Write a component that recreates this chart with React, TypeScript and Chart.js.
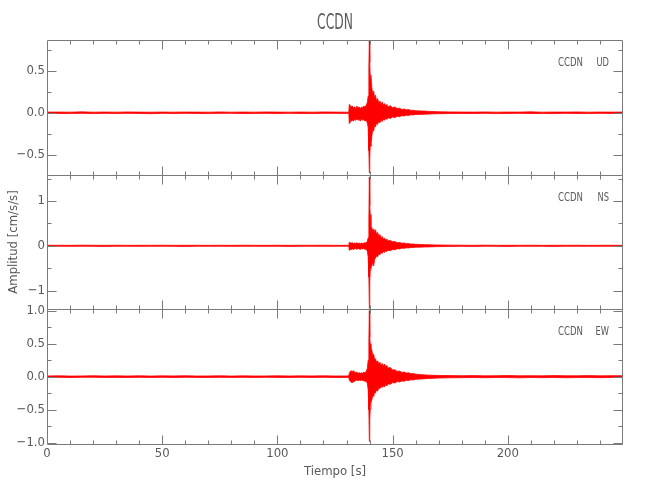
import React, { useEffect, useRef } from 'react';
import { Chart, registerables } from 'chart.js';

Chart.register(...registerables);

const TITLE = 'CCDN';
const STATION = 'CCDN';
const X_LABEL = 'Tiempo [s]';
const Y_LABEL = 'Amplitud [cm/s/s]';
const X_RANGE = [0, 250];
const X_TICKS = [0, 50, 100, 150, 200];

const TIME = [
  0, 5, 10, 15, 20, 25, 30, 35, 40, 45, 50, 55, 60, 65, 70, 75, 80, 85, 90, 95, 100, 105, 110, 115, 120, 125, 130, 131,
  131.2, 131.6, 132, 132.5, 133, 133.5, 134, 134.5, 135, 135.5, 136, 136.5, 137, 137.5, 138, 138.5, 139,
  139.4, 139.7, 139.9, 140.1, 140.3, 140.6,
  141, 141.4, 141.8, 142.2, 142.6, 143,
  143.5, 144, 144.5, 145, 145.5, 146, 146.5, 147, 147.5, 148,
  149, 150, 151, 152, 153, 154, 155, 156, 157, 158, 159, 160,
  162, 164, 166, 168, 170,
  175,
  180, 185, 190, 195, 200, 205, 210, 215, 220, 225, 230, 235, 240, 245, 250,
];

// UD component (upper / lower envelope)
const UD_HI = [
  0.008, 0.009, 0.007, 0.011, 0.007, 0.009, 0.007, 0.010, 0.008, 0.007, 0.009, 0.007, 0.009, 0.008, 0.007, 0.010, 0.007, 0.009, 0.007, 0.010, 0.008, 0.007, 0.009, 0.007, 0.010, 0.008, 0.007, 0.008,
  0.10, 0.09, 0.07, 0.08, 0.06, 0.07, 0.05, 0.08, 0.06, 0.07, 0.05, 0.07, 0.06, 0.08, 0.07, 0.09, 0.12,
  0.20, 0.55, 0.87, 0.60, 0.42, 0.45,
  0.30, 0.22, 0.26, 0.17, 0.21, 0.14,
  0.17, 0.12, 0.14, 0.10, 0.13, 0.09, 0.11, 0.08, 0.10, 0.07,
  0.085, 0.06, 0.07, 0.05, 0.055, 0.04, 0.045, 0.035, 0.038, 0.028, 0.03, 0.024,
  0.022, 0.02, 0.015, 0.014, 0.012,
  0.010,
  0.009, 0.008, 0.010, 0.007, 0.009, 0.008, 0.011, 0.007, 0.009, 0.008, 0.010, 0.007, 0.009, 0.008, 0.009,
];
const UD_LO = [
  -0.007, -0.009, -0.008, -0.007, -0.010, -0.007, -0.009, -0.007, -0.008, -0.011, -0.007, -0.009, -0.007, -0.008, -0.010, -0.007, -0.007, -0.009, -0.008, -0.007, -0.010, -0.007, -0.008, -0.009, -0.007, -0.007, -0.008, -0.007,
  -0.13, -0.11, -0.10, -0.09, -0.10, -0.08, -0.09, -0.07, -0.09, -0.08, -0.10, -0.07, -0.09, -0.08, -0.10, -0.09, -0.12,
  -0.18, -0.45, -0.72, -0.55, -0.38, -0.40,
  -0.28, -0.19, -0.22, -0.14, -0.17, -0.12,
  -0.14, -0.10, -0.12, -0.085, -0.105, -0.075, -0.09, -0.065, -0.08, -0.06,
  -0.068, -0.05, -0.058, -0.042, -0.047, -0.035, -0.038, -0.03, -0.032, -0.024, -0.026, -0.02,
  -0.02, -0.017, -0.014, -0.013, -0.011,
  -0.009,
  -0.008, -0.009, -0.007, -0.010, -0.008, -0.007, -0.009, -0.008, -0.010, -0.007, -0.008, -0.009, -0.007, -0.008, -0.009,
];

// NS component
const NS_HI = [
  0.011, 0.012, 0.010, 0.014, 0.011, 0.010, 0.013, 0.010, 0.012, 0.011, 0.013, 0.010, 0.011, 0.012, 0.010, 0.012, 0.010, 0.013, 0.011, 0.010, 0.012, 0.010, 0.012, 0.011, 0.013, 0.010, 0.011, 0.012,
  0.08, 0.07, 0.06, 0.07, 0.05, 0.06, 0.05, 0.07, 0.05, 0.06, 0.05, 0.06, 0.05, 0.06, 0.07, 0.06, 0.10,
  0.18, 0.60, 1.54, 0.90, 0.70, 0.45,
  0.40, 0.33, 0.38, 0.30, 0.36, 0.26,
  0.30, 0.22, 0.25, 0.18, 0.21, 0.15, 0.17, 0.13, 0.15, 0.11,
  0.12, 0.09, 0.095, 0.07, 0.075, 0.058, 0.06, 0.048, 0.05, 0.038, 0.04, 0.032,
  0.03, 0.026, 0.024, 0.02, 0.018,
  0.015,
  0.013, 0.011, 0.014, 0.010, 0.012, 0.011, 0.013, 0.010, 0.012, 0.011, 0.013, 0.010, 0.011, 0.012, 0.011,
];
const NS_LO = [
  -0.011, -0.010, -0.012, -0.010, -0.012, -0.013, -0.010, -0.011, -0.012, -0.010, -0.010, -0.012, -0.013, -0.010, -0.011, -0.010, -0.012, -0.011, -0.010, -0.012, -0.010, -0.013, -0.011, -0.010, -0.012, -0.010, -0.011, -0.011,
  -0.10, -0.09, -0.08, -0.07, -0.08, -0.07, -0.06, -0.08, -0.06, -0.07, -0.08, -0.06, -0.07, -0.06, -0.08, -0.07, -0.12,
  -0.25, -0.70, -1.40, -0.80, -0.55, -0.50,
  -0.45, -0.36, -0.45, -0.30, -0.28, -0.22,
  -0.25, -0.18, -0.20, -0.15, -0.17, -0.13, -0.15, -0.11, -0.13, -0.10,
  -0.11, -0.08, -0.09, -0.065, -0.07, -0.052, -0.056, -0.045, -0.048, -0.036, -0.038, -0.03,
  -0.03, -0.026, -0.024, -0.02, -0.018,
  -0.015,
  -0.012, -0.013, -0.010, -0.011, -0.014, -0.010, -0.012, -0.011, -0.013, -0.010, -0.011, -0.012, -0.010, -0.011, -0.012,
];

// EW component
const EW_HI = [
  0.010, 0.013, 0.009, 0.011, 0.014, 0.010, 0.012, 0.010, 0.013, 0.009, 0.012, 0.011, 0.014, 0.010, 0.011, 0.013, 0.009, 0.012, 0.010, 0.011, 0.013, 0.010, 0.012, 0.011, 0.013, 0.010, 0.011, 0.012,
  0.05, 0.08, 0.09, 0.08, 0.09, 0.07, 0.06, 0.07, 0.05, 0.06, 0.05, 0.06, 0.05, 0.07, 0.06, 0.08, 0.12,
  0.25, 0.55, 1.00, 0.60, 0.50, 0.45,
  0.40, 0.32, 0.34, 0.26, 0.27, 0.22,
  0.24, 0.19, 0.22, 0.17, 0.20, 0.16, 0.19, 0.15, 0.17, 0.13,
  0.14, 0.10, 0.105, 0.08, 0.085, 0.065, 0.07, 0.055, 0.058, 0.045, 0.048, 0.038,
  0.032, 0.027, 0.023, 0.02, 0.018,
  0.016,
  0.014, 0.016, 0.012, 0.015, 0.017, 0.013, 0.015, 0.012, 0.016, 0.014, 0.013, 0.016, 0.012, 0.015, 0.014,
];
const EW_LO = [
  -0.011, -0.010, -0.013, -0.010, -0.009, -0.012, -0.011, -0.013, -0.010, -0.012, -0.010, -0.013, -0.009, -0.011, -0.012, -0.010, -0.011, -0.010, -0.013, -0.009, -0.011, -0.012, -0.010, -0.012, -0.010, -0.013, -0.011, -0.011,
  -0.05, -0.07, -0.085, -0.09, -0.08, -0.07, -0.06, -0.05, -0.06, -0.05, -0.06, -0.05, -0.06, -0.06, -0.07, -0.07, -0.10,
  -0.20, -0.50, -0.98, -0.65, -0.49, -0.39,
  -0.35, -0.28, -0.30, -0.23, -0.25, -0.20,
  -0.22, -0.17, -0.18, -0.15, -0.165, -0.14, -0.155, -0.12, -0.14, -0.11,
  -0.115, -0.09, -0.095, -0.075, -0.08, -0.065, -0.068, -0.055, -0.058, -0.047, -0.05, -0.04,
  -0.036, -0.031, -0.027, -0.024, -0.02,
  -0.017,
  -0.015, -0.013, -0.016, -0.012, -0.014, -0.017, -0.013, -0.015, -0.012, -0.016, -0.014, -0.013, -0.015, -0.012, -0.014,
];

const UD_RANGE = [-0.74, 0.87];
const UD_TICKS = [-0.5, 0, 0.5];
const UD_MINOR = [-0.25, 0.25, 0.75];
const NS_RANGE = [-1.42, 1.59];
const NS_TICKS = [-1, 0, 1];
const NS_MINOR = [-0.5, 0.5, 1.5];
const EW_RANGE = [-1.02, 1.02];
const EW_TICKS = [-1, -0.5, 0, 0.5, 1];
const EW_MINOR = [-0.75, -0.25, 0.25, 0.75];

const PANELS = [
  { id: 'yUD', comp: 'UD', hi: UD_HI, lo: UD_LO, range: UD_RANGE, ticks: UD_TICKS, minor: UD_MINOR, dec: 1, weight: 3 },
  { id: 'yNS', comp: 'NS', hi: NS_HI, lo: NS_LO, range: NS_RANGE, ticks: NS_TICKS, minor: NS_MINOR, dec: 0, weight: 2 },
  { id: 'yEW', comp: 'EW', hi: EW_HI, lo: EW_LO, range: EW_RANGE, ticks: EW_TICKS, minor: EW_MINOR, dec: 1, weight: 1 },
];

const RED = '#ff0000';
const FRAME = '#7a7a7a';
const TEXT = '#5a5a5a';
const FONT = "'Liberation Sans Narrow', 'DejaVu Sans Condensed', 'Liberation Sans', sans-serif";
const CFONT = "'DejaVu Sans', sans-serif";

const fmt = (v: number, dec: number) => {
  const s = Math.abs(v).toFixed(dec);
  return (v < 0 ? '\u2212' : '') + s;
};

function narrowText(ctx: any, text: string, x: number, y: number, align: string, size: number, sx: number) {
  ctx.save();
  ctx.translate(x, y);
  ctx.scale(sx, 1);
  ctx.font = `${size}px ${CFONT}`;
  ctx.fillStyle = TEXT;
  ctx.textAlign = align;
  ctx.textBaseline = 'alphabetic';
  ctx.fillText(text, 0, 0);
  ctx.restore();
}

const framePlugin = {
  id: 'idlFrames',
  afterDatasetsDraw(chart: any) {
    const ctx = chart.ctx;
    const ca = chart.chartArea;
    const xs = chart.scales.x;
    const L = Math.round(ca.left) + 0.5;
    const R = Math.round(ca.right) - 0.5;
    ctx.save();
    ctx.strokeStyle = FRAME;
    ctx.lineWidth = 1;
    PANELS.forEach((p) => {
      const s = chart.scales[p.id];
      const T = Math.round(s.top) + 0.5;
      const B = Math.round(s.bottom) + 0.5;
      ctx.beginPath();
      ctx.rect(L, T, R - L, B - T);
      for (let v = X_RANGE[0] + 10; v < X_RANGE[1]; v += 10) {
        const px = Math.round(xs.getPixelForValue(v)) + 0.5;
        const len = v % 50 === 0 ? 9 : 4;
        ctx.moveTo(px, T); ctx.lineTo(px, T + len);
        ctx.moveTo(px, B); ctx.lineTo(px, B - len);
      }
      const yt = (v: number, len: number) => {
        const py = Math.round(s.getPixelForValue(v)) + 0.5;
        ctx.moveTo(L, py); ctx.lineTo(L + len, py);
        ctx.moveTo(R, py); ctx.lineTo(R - len, py);
      };
      p.ticks.forEach((v) => yt(v, 9));
      p.minor.forEach((v) => yt(v, 4));
      ctx.stroke();
      narrowText(ctx, STATION, ca.right - 40, s.top + 26, 'right', 13, 0.66);
      narrowText(ctx, p.comp, ca.right - 14, s.top + 26, 'right', 13, 0.64);
    });
    narrowText(ctx, TITLE, (ca.left + ca.right) / 2, 28.5, 'center', 22, 0.56);
    ctx.restore();
  },
};

export default function App() {
  const ref = useRef<HTMLCanvasElement | null>(null);
  useEffect(() => {
    if (!ref.current) return;
    const datasets: any[] = [];
    PANELS.forEach((p) => {
      datasets.push({
        label: p.comp + ' hi',
        data: TIME.map((t, i) => ({ x: t, y: p.hi[i] })),
        yAxisID: p.id,
        borderColor: RED,
        backgroundColor: RED,
        borderWidth: 0.8,
        pointRadius: 0,
        tension: 0,
        fill: '+1',
      });
      datasets.push({
        label: p.comp + ' lo',
        data: TIME.map((t, i) => ({ x: t, y: p.lo[i] })),
        yAxisID: p.id,
        borderColor: RED,
        backgroundColor: RED,
        borderWidth: 0.8,
        pointRadius: 0,
        tension: 0,
        fill: false,
      });
    });
    const scales: any = {
      x: {
        type: 'linear',
        position: 'bottom',
        min: X_RANGE[0],
        max: X_RANGE[1],
        grid: { display: false, drawTicks: false },
        border: { display: false },
        afterBuildTicks: (s: any) => { s.ticks = X_TICKS.map((v) => ({ value: v })); },
        afterFit: (s: any) => { s.height = 56; },
        ticks: {
          autoSkip: false,
          maxRotation: 0,
          padding: 2,
          color: TEXT,
          font: { family: FONT, size: 13 },
          callback: (v: any) => String(v),
        },
        title: {
          display: true,
          text: X_LABEL,
          color: TEXT,
          font: { family: FONT, size: 13 },
          padding: { top: 0, bottom: 21 },
        },
      },
    };
    PANELS.forEach((p) => {
      scales[p.id] = {
        type: 'linear',
        position: 'left',
        stack: 'seis',
        stackWeight: 1,
        weight: p.weight,
        min: p.range[0],
        max: p.range[1],
        grid: { display: false, drawTicks: false },
        border: { display: false },
        afterBuildTicks: (s: any) => { s.ticks = p.ticks.map((v) => ({ value: v })); },
        afterFit: (s: any) => { s.width = 47; },
        ticks: {
          autoSkip: false,
          padding: 2,
          color: TEXT,
          font: { family: FONT, size: 13 },
          callback: (v: any) => fmt(Number(v), p.dec),
        },
        title: {
          display: p.id === 'yNS',
          text: Y_LABEL,
          color: TEXT,
          font: { family: FONT, size: 13 },
          padding: { top: 6, bottom: 0 },
        },
      };
    });
    const chart = new Chart(ref.current, {
      type: 'line',
      data: { datasets },
      options: {
        responsive: false,
        animation: false,
        events: [],
        layout: { padding: { top: 40, left: 0, right: 27, bottom: 0 } },
        plugins: {
          legend: { display: false },
          tooltip: { enabled: false },
          title: { display: false, text: TITLE },
        },
        scales,
      },
      plugins: [framePlugin],
    });
    return () => chart.destroy();
  }, []);
  return (
    <div style={{ position: 'absolute', left: 0, top: 0, width: 650, height: 500, background: '#fff' }}>
      <canvas ref={ref} width={650} height={500} />
    </div>
  );
}
